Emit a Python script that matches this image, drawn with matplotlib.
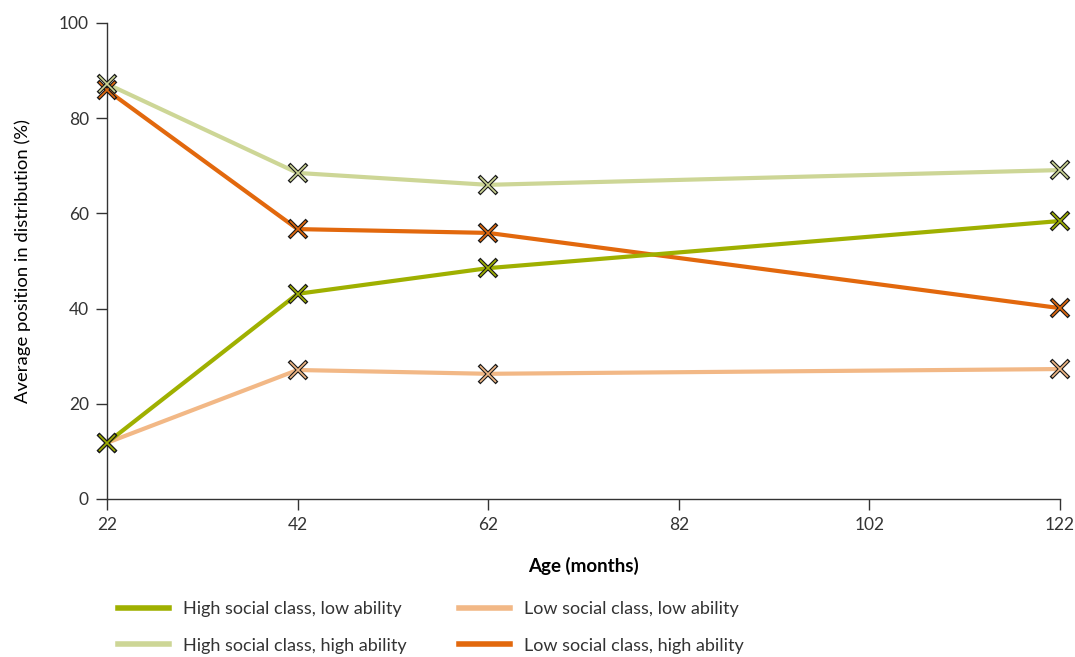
import matplotlib as mpl
mpl.use('Agg')
import matplotlib.pyplot as plt
from matplotlib.lines import Line2D

ages = [22, 42, 62, 122]
high_low = [11.8, 43.1, 48.5, 58.4]
low_low = [11.8, 27.1, 26.3, 27.3]
high_high = [87.2, 68.5, 66.0, 69.1]
low_high = [85.9, 56.7, 55.9, 40.1]

labels = ['High social class, low ability', 'Low social class, low ability',
          'High social class, high ability', 'Low social class, high ability']
colors = ['#9fb000', '#f2b886', '#cdd696', '#e2680d']
series = [high_low, low_low, high_high, low_high]

plt.rcParams['font.family'] = ['Lato', 'DejaVu Sans']

fig = plt.figure(figsize=(10.75, 6.57), dpi=100)
ax = fig.add_axes([0.0995, 0.2405, 0.8865, 0.7245])

# draw order so the lighter lines sit under the darker ones at 22 months
order = [3, 2, 1, 0]
for i in order:
    ax.plot(ages, series[i], color=colors[i], lw=3, zorder=2 + 0.1 * (3 - i))
for i in order:
    ax.plot(ages, series[i], ls='none', marker='x', ms=13, mew=2.8,
            color='#1a1a1a', zorder=5 + 0.1 * (3 - i), clip_on=False)
    ax.plot(ages, series[i], ls='none', marker='x', ms=12, mew=1.2,
            color=colors[i], zorder=5.05 + 0.1 * (3 - i), clip_on=False)

ax.set_xlim(22, 122)
ax.set_ylim(0, 100)
ax.set_xticks(range(22, 123, 20))
ax.set_yticks(range(0, 101, 20))
ax.spines['top'].set_visible(False)
ax.spines['right'].set_visible(False)
for s in ['left', 'bottom']:
    ax.spines[s].set_color('#333333')
    ax.spines[s].set_linewidth(1)
ax.tick_params(direction='out', length=8, width=1, color='#333333',
               labelsize=12.5, labelcolor='#333333', pad=5)
ax.set_xlabel('Age (months)', fontsize=13.5, fontweight='bold', labelpad=17)
ax.set_ylabel('Average position in distribution (%)', fontsize=13.3, labelpad=20)

# legend reads across rows, so give the handles in column order
leg_order = [0, 2, 1, 3]
handles = [Line2D([0], [0], color=colors[i], lw=4) for i in leg_order]
fig.legend(handles, [labels[i] for i in leg_order], loc='center left',
           bbox_to_anchor=(0.095, 0.045), ncol=2, frameon=False, fontsize=13,
           handlelength=2.8, handletextpad=0.8, columnspacing=2.9,
           labelspacing=1.15, labelcolor='#333333')

fig.savefig('out.png', dpi=100)
